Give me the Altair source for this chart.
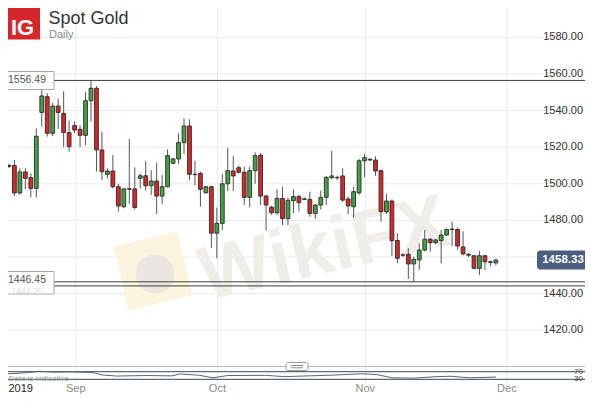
import altair as alt
import pandas as pd

FONT = "Liberation Sans, Arial, Helvetica, sans-serif"

# ---------------- data ----------------
opens = [1510, 1510, 1495, 1506.5, 1503.4, 1497.5, 1539, 1547.6, 1527.6, 1542.5,
         1538.5, 1528, 1531.8, 1529.8, 1526.5, 1545.4, 1552.2, 1518.5, 1505.2, 1507,
         1498.4, 1487.5, 1497, 1497.2, 1503, 1504.4, 1499, 1501.5, 1493.3, 1498.4,
         1511.2, 1513.6, 1522.5, 1531.6, 1505.2, 1505.7, 1495.1, 1498.4, 1473, 1478.4,
         1500, 1507, 1508.8, 1506.3, 1492.6, 1507.2, 1515.7, 1493.3, 1487.2, 1484.2,
         1492, 1481, 1490.8, 1493, 1491.5, 1491.5, 1483.8, 1488.4, 1492.6, 1503.3,
         1503.5, 1504.3, 1491.7, 1487.5, 1495.1, 1512.6, 1513.4, 1513, 1507.2, 1484.8,
         1490.6, 1469, 1461, 1461.5, 1456.2, 1458.4, 1463.8, 1469.7, 1467.8, 1469,
         1472, 1475, 1475, 1465.5, 1461.5, 1460.7, 1453.8, 1460.7, 1457.4, 1456.8]
highs = [1511, 1513, 1508.5, 1508.5, 1505.7, 1530.3, 1551.5, 1549.5, 1544.3, 1546.5,
         1550.5, 1534.5, 1534, 1532, 1550, 1556.5, 1553.4, 1528.5, 1508.5, 1515.7,
         1500, 1497.6, 1524.5, 1509, 1505.7, 1512.4, 1507.5, 1511.5, 1504.8, 1518.9,
         1514, 1527.6, 1535.8, 1535.2, 1512.6, 1506.6, 1498.8, 1499, 1487, 1505.4,
         1519.7, 1515.2, 1510, 1509.4, 1509.4, 1517.2, 1516.7, 1494, 1488, 1497,
         1498.4, 1492.5, 1497, 1494, 1492.5, 1495.7, 1489, 1496.3, 1504.3, 1518,
         1504.5, 1508.5, 1493, 1498.4, 1513.5, 1516.3, 1514, 1515, 1507.5, 1494.4,
         1491.5, 1473, 1462, 1464.8, 1460.2, 1467.5, 1474.8, 1470.5, 1470, 1474.8,
         1475.5, 1479.3, 1476, 1474, 1462, 1461, 1463.3, 1461, 1458, 1459]
lows = [1508.5, 1493.3, 1494, 1497.2, 1492.6, 1492.6, 1531.2, 1525.8, 1526, 1530,
        1520, 1517.6, 1527.6, 1520, 1521.2, 1534, 1506.6, 1502, 1503, 1497.5,
        1484.8, 1486.6, 1489, 1486, 1497.5, 1496.3, 1493.9, 1483.5, 1489, 1498,
        1510.7, 1511, 1516.3, 1502, 1499.3, 1487.5, 1494.7, 1465, 1459.3, 1474.8,
        1496, 1496, 1505.5, 1488.4, 1487.2, 1500, 1488.4, 1474.4, 1483, 1483,
        1477.5, 1477.5, 1484, 1484.8, 1491, 1482, 1480.8, 1486, 1488.4, 1502.5,
        1502, 1490.2, 1483.5, 1481.5, 1494, 1503.5, 1512.5, 1504.4, 1479.3, 1483.5,
        1460.5, 1456.6, 1460, 1448, 1446.45, 1453, 1463, 1462.8, 1467, 1456.6,
        1471.5, 1466, 1464, 1461, 1460, 1453.5, 1450.2, 1453, 1455, 1455.5]
closes = [1509.5, 1495, 1506.5, 1503, 1497.5, 1526, 1548, 1527.6, 1542.5, 1539,
          1528, 1520.3, 1529.4, 1526.5, 1545.4, 1552.2, 1518.5, 1506.6, 1507, 1498.4,
          1487.9, 1497.2, 1497.3, 1487.1, 1504.4, 1499, 1501.5, 1493.3, 1498.4, 1515.4,
          1513.6, 1522.5, 1531.6, 1505.2, 1505, 1497, 1498.4, 1473, 1478.4, 1500,
          1507.2, 1504.3, 1506.3, 1492.6, 1507.2, 1515.4, 1493.3, 1488.4, 1484.2, 1492,
          1481, 1491, 1493, 1489.7, 1491.8, 1483.8, 1488.4, 1492.6, 1503.5, 1504.3,
          1503.3, 1491.1, 1487.9, 1495.7, 1512.6, 1514.3, 1513, 1507, 1484.8, 1490.6,
          1468.9, 1459.3, 1461.2, 1456.2, 1458.7, 1463.8, 1469.7, 1467.8, 1469.3, 1472,
          1475.1, 1475.3, 1466, 1461.7, 1461, 1453.8, 1460.7, 1457.4, 1457.1, 1458.33]

month_pos = [12.22, 38.10, 65.14, 91.01]
month_labels = ["Sep", "Oct", "Nov", "Dec"]
year_label = "2019"

price_ticks = [1420, 1440, 1460, 1480, 1500, 1520, 1540, 1560, 1580]
top_level = [1556.49]
low_levels = [1446.45, 1444.20]
last_price = 1458.33

rsi_pos = [-0.7, 3.4, 5.7, 8.1, 11.5, 15.3, 17.0, 19.7, 25.1, 29.8, 31.2, 34.6, 37.3,
           40.0, 46.9, 50.3, 53.7, 59.1, 64.5, 67.2, 70.0, 74.0, 78.1, 80.8, 84.2, 87.0, 89.0]
rsi_vals = [58, 65, 72, 68, 69, 66, 53, 47, 50, 48, 58, 52, 38,
            50, 51, 44, 47, 52, 59, 55, 38, 36, 44, 46, 38, 40, 42]
rsi_levels = [70, 30]

# ---------------- layout ----------------
W, H = 593, 403
GREEN, RED, EDGE = "#45a045", "#d8262a", "#2a2a2a"
GRID = "#e9e9e9"

xs = alt.Scale(domain=[-0.719, 105.84], nice=False, zero=False)
ys = alt.Scale(domain=[1380.22, 1600.44], nice=False, zero=False)
rs = alt.Scale(domain=[-94.7, 2026.3], nice=False, zero=False)

candles = pd.DataFrame({"i": list(range(len(opens))), "open": opens, "high": highs,
                        "low": lows, "close": closes})
candles["dir"] = ["up" if c >= o else "down" for o, c in zip(opens, closes)]

one = pd.DataFrame({"a": [0]})
pt_df = pd.DataFrame({"p": price_ticks})
mo_df = pd.DataFrame({"i": month_pos, "lab": month_labels})

price_grid = alt.Chart(pt_df).mark_rule(color=GRID, strokeWidth=1).encode(
    y=alt.Y("p:Q", scale=ys, axis=None), x=alt.value(0), x2=alt.value(W))
month_grid = alt.Chart(mo_df).mark_rule(color=GRID, strokeWidth=1).encode(
    x=alt.X("i:Q", scale=xs, axis=None), y=alt.value(0), y2=alt.value(385))

# watermark
wm_logo = alt.Chart(one).mark_square(size=4300, angle=347, filled=True, color="#fcf4df", opacity=1).encode(
    x=alt.value(153), y=alt.value(271))
wm_eagle = alt.Chart(one).mark_circle(size=1500, color="#ebe6e1", opacity=1).encode(
    x=alt.value(155), y=alt.value(274))
wm_text = alt.Chart(pd.DataFrame({"t": ["WikiFX"]})).mark_text(
    font=FONT, fontSize=76, fontWeight="bold", angle=347, color="#f0ece8",
    align="center", baseline="middle").encode(x=alt.value(324), y=alt.value(250), text="t:N")

price_lbl = alt.Chart(pt_df).mark_text(align="right", baseline="middle", font=FONT,
                                       fontSize=11, color="#333333").encode(
    y=alt.Y("p:Q", scale=ys, axis=None), x=alt.value(583), text=alt.Text("p:Q", format=".2f"))
month_lbl = alt.Chart(mo_df).mark_text(baseline="middle", font=FONT, fontSize=11,
                                       color="#8a8a8a").encode(
    x=alt.X("i:Q", scale=xs, axis=None), y=alt.value(389), text="lab:N")
year_lbl = alt.Chart(pd.DataFrame({"t": [year_label]})).mark_text(
    align="left", baseline="middle", font=FONT, fontSize=11, color="#222222").encode(
    x=alt.value(8.5), y=alt.value(389), text="t:N")

# horizontal levels
lvl_top = alt.Chart(pd.DataFrame({"p": top_level})).mark_rule(color="#3c3c3c", strokeWidth=1).encode(
    y=alt.Y("p:Q", scale=ys, axis=None), x=alt.value(54), x2=alt.value(W))
lvl_low = alt.Chart(pd.DataFrame({"p": low_levels})).mark_rule(color="#3c3c3c", strokeWidth=1).encode(
    y=alt.Y("p:Q", scale=ys, axis=None), x=alt.value(54), x2=alt.value(W))

# indicator panel
divider = alt.Chart(one).mark_rule(color="#b8b8b8", strokeWidth=1).encode(
    x=alt.value(0), x2=alt.value(W), y=alt.value(366.5))
rsi_lv = alt.Chart(pd.DataFrame({"r": rsi_levels})).mark_rule(color="#2f4a5e", strokeWidth=1).encode(
    y=alt.Y("r:Q", scale=rs, axis=None), x=alt.value(0), x2=alt.value(W))
rsi_line = alt.Chart(pd.DataFrame({"i": rsi_pos, "r": rsi_vals})).mark_line(
    color="#5a6470", strokeWidth=1).encode(
    x=alt.X("i:Q", scale=xs, axis=None), y=alt.Y("r:Q", scale=rs, axis=None))
rsi_lbl = alt.Chart(pd.DataFrame({"r": rsi_levels})).mark_text(
    align="right", baseline="middle", font=FONT, fontSize=8, color="#444444").encode(
    y=alt.Y("r:Q", scale=rs, axis=None), x=alt.value(583), text="r:Q")
data_note = alt.Chart(pd.DataFrame({"t": ["Data is indicative"]})).mark_text(
    align="left", baseline="middle", font=FONT, fontSize=8, color="#9a9a9a").encode(
    x=alt.value(8.5), y=alt.value(378.5), text="t:N")
handle = alt.Chart(one).mark_rect(fill="white", stroke="#9a9a9a", strokeWidth=1, cornerRadius=2).encode(
    x=alt.value(286), x2=alt.value(308), y=alt.value(362.5), y2=alt.value(370.5))
handle_l1 = alt.Chart(one).mark_rule(color="#888888", strokeWidth=1).encode(
    x=alt.value(291), x2=alt.value(303), y=alt.value(365.5))
handle_l2 = alt.Chart(one).mark_rule(color="#888888", strokeWidth=1).encode(
    x=alt.value(291), x2=alt.value(303), y=alt.value(367.8))

# candles
wicks = alt.Chart(candles).mark_rule(color="#555555", strokeWidth=1).encode(
    x=alt.X("i:Q", scale=xs, axis=None),
    y=alt.Y("low:Q", scale=ys, axis=None), y2="high:Q")
bodies = alt.Chart(candles).mark_bar(size=3.8, stroke=EDGE, strokeWidth=0.9).encode(
    x=alt.X("i:Q", scale=xs, axis=None),
    y=alt.Y("open:Q", scale=ys, axis=None), y2="close:Q",
    color=alt.Color("dir:N", scale=alt.Scale(domain=["up", "down"], range=[GREEN, RED]), legend=None))

# level boxes
box_top = alt.Chart(one).mark_rect(fill="white", stroke="#a8a8a8", strokeWidth=1).encode(
    x=alt.value(-1), x2=alt.value(54), y=alt.value(71.5), y2=alt.value(89.5))
box_low = alt.Chart(one).mark_rect(fill="white", stroke="#a8a8a8", strokeWidth=1).encode(
    x=alt.value(-1), x2=alt.value(54), y=alt.value(271.5), y2=alt.value(294))
lbl_top = alt.Chart(pd.DataFrame({"p": top_level})).mark_text(
    font=FONT, fontSize=10.5, color="#555555", baseline="middle").encode(
    y=alt.Y("p:Q", scale=ys, axis=None), x=alt.value(27), text=alt.Text("p:Q", format=".2f"))
lbl_low1 = alt.Chart(pd.DataFrame({"p": low_levels[:1]})).mark_text(
    font=FONT, fontSize=10.5, color="#555555", baseline="middle", dy=-1.5).encode(
    y=alt.Y("p:Q", scale=ys, axis=None), x=alt.value(27), text=alt.Text("p:Q", format=".2f"))
lbl_low2 = alt.Chart(pd.DataFrame({"p": low_levels[1:]})).mark_text(
    font=FONT, fontSize=8.5, color="#dcdcdc", baseline="middle", dy=5).encode(
    y=alt.Y("p:Q", scale=ys, axis=None), x=alt.value(27), text=alt.Text("p:Q", format=".2f"))

# last price tag
tag = alt.Chart(one).mark_rect(color="#4b5e7e", cornerRadius=3).encode(
    x=alt.value(537), x2=alt.value(588), y=alt.value(250.5), y2=alt.value(269.5))
tag_txt = alt.Chart(pd.DataFrame({"p": [last_price]})).mark_text(
    font=FONT, fontSize=11.5, fontWeight="bold", color="white", baseline="middle").encode(
    y=alt.Y("p:Q", scale=ys, axis=None), x=alt.value(563), text=alt.Text("p:Q", format=".2f"))

# header
logo = alt.Chart(one).mark_rect(color="#d7262b").encode(
    x=alt.value(8), x2=alt.value(40), y=alt.value(8), y2=alt.value(39.5))
logo_txt = alt.Chart(pd.DataFrame({"t": ["IG"]})).mark_text(
    font=FONT, fontSize=22, fontWeight="bold", color="white", baseline="alphabetic").encode(
    x=alt.value(22.5), y=alt.value(35), text="t:N")
title = alt.Chart(pd.DataFrame({"t": ["Spot Gold"]})).mark_text(
    font=FONT, fontSize=18, color="#333333", align="left", baseline="alphabetic").encode(
    x=alt.value(48.5), y=alt.value(23.8), text="t:N")
subtitle = alt.Chart(pd.DataFrame({"t": ["Daily"]})).mark_text(
    font=FONT, fontSize=11, color="#8a8a8a", align="left", baseline="alphabetic").encode(
    x=alt.value(49), y=alt.value(37.6), text="t:N")

chart = alt.layer(
    price_grid, month_grid, wm_logo, wm_eagle, wm_text,
    lvl_top, lvl_low, price_lbl,
    divider, rsi_lv, rsi_line, rsi_lbl, data_note, handle, handle_l1, handle_l2,
    wicks, bodies,
    box_top, box_low, lbl_top, lbl_low2, lbl_low1,
    tag, tag_txt,
    logo, logo_txt, title, subtitle,
    month_lbl, year_lbl,
).resolve_scale(y="independent").properties(
    width=W, height=H,
    autosize=alt.AutoSizeParams(type="none"),
    padding={"left": -8, "top": -8, "right": -8, "bottom": -8},
).configure_view(stroke=None).configure(background="white")

chart.save("out.html", embed_options={"renderer": "svg", "actions": False})
